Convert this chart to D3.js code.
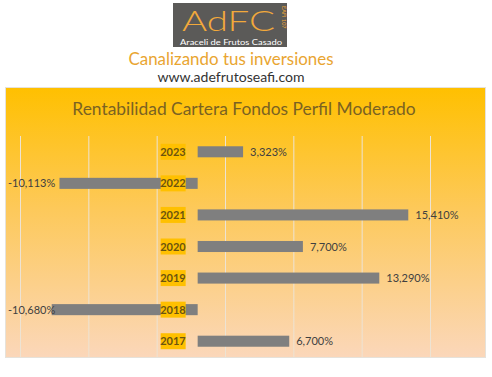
<!DOCTYPE html>
<html>
<head>
<meta charset="utf-8">
<script src="https://cdn.jsdelivr.net/npm/d3@7"></script>
<style>
  body { margin: 0; background: #fff; }
  svg { display: block; }
</style>
</head>
<body>
<svg id="chart" width="492" height="377"></svg>
<script>
var years = ['2023', '2022', '2021', '2020', '2019', '2018', '2017'];
var returns = [3.323, -10.113, 15.41, 7.7, 13.29, -10.68, 6.7];
var axisMin = -13, axisMax = 17, axisStep = 5;

var svg = d3.select('#chart');

// header / logo
var defs = svg.append('defs');
var grad = defs.append('linearGradient').attr('id', 'bg')
  .attr('x1', 0).attr('y1', 0).attr('x2', 0).attr('y2', 1);
grad.append('stop').attr('offset', '0%').attr('stop-color', '#FFC000');
grad.append('stop').attr('offset', '45%').attr('stop-color', '#FDC95A');
grad.append('stop').attr('offset', '100%').attr('stop-color', '#FBD7BA');

svg.append('rect').attr('x', 173).attr('y', 3).attr('width', 114).attr('height', 44)
  .attr('fill', '#5B5A58');
svg.append('text').attr('x', 182).attr('y', 31)
  .attr('textLength', 93).attr('lengthAdjust', 'spacingAndGlyphs')
  .style('font-family', 'Lato, sans-serif').style('font-weight', 300)
  .style('font-size', '28px').style('fill', '#F2A93B')
  .text('AdFC');
svg.append('text').attr('transform', 'translate(282,6) rotate(90)')
  .style('font-family', 'Lato, sans-serif').style('font-size', '5.5px').style('fill', '#F2A93B')
  .text('EAFI 107');
svg.append('text').attr('x', 180).attr('y', 44.5)
  .attr('textLength', 102).attr('lengthAdjust', 'spacingAndGlyphs')
  .style('font-family', 'Lato, sans-serif').style('font-size', '8px').style('fill', '#fff')
  .text('Araceli de Frutos Casado');
svg.append('text').attr('x', 231).attr('y', 65).attr('text-anchor', 'middle')
  .attr('textLength', 205).attr('lengthAdjust', 'spacingAndGlyphs')
  .style('font-family', 'Lato, sans-serif').style('font-size', '16.5px').style('fill', '#E9A531')
  .text('Canalizando tus inversiones');
svg.append('text').attr('x', 231).attr('y', 82).attr('text-anchor', 'middle')
  .attr('textLength', 147).attr('lengthAdjust', 'spacingAndGlyphs')
  .style('font-family', 'Lato, sans-serif').style('font-size', '13px').style('fill', '#333')
  .text('www.adefrutoseafi.com');

// chart area
svg.append('rect').attr('x', 5.5).attr('y', 87.5).attr('width', 480).attr('height', 270)
  .attr('fill', 'url(#bg)').attr('stroke', '#E6E2DA');

svg.append('text').attr('x', 244).attr('y', 115).attr('text-anchor', 'middle')
  .style('font-family', 'Lato, sans-serif').style('font-size', '17.4px').style('fill', '#7A6222')
  .text('Rentabilidad Cartera Fondos Perfil Moderado');

var x = d3.scaleLinear().domain([axisMin, axisMax]).range([20, 430]);
var y = d3.scaleBand().domain(years).range([136, 357]).paddingInner(0.65).paddingOuter(0.325);

// gridlines
svg.append('g').selectAll('line')
  .data(d3.range(axisMin, axisMax + 0.01, axisStep))
  .enter().append('line')
  .attr('x1', d => x(d) + 0.5).attr('x2', d => x(d) + 0.5)
  .attr('y1', 136).attr('y2', 357)
  .attr('stroke', '#EDE3D3').attr('stroke-width', 1);

var data = years.map((yr, i) => ({ year: yr, value: returns[i] }));

svg.append('g').selectAll('rect')
  .data(data).enter().append('rect')
  .attr('x', d => x(Math.min(0, d.value)))
  .attr('y', d => y(d.year))
  .attr('width', d => Math.abs(x(d.value) - x(0)))
  .attr('height', y.bandwidth())
  .attr('fill', '#7F7F7F');

// category labels with yellow boxes
var cat = svg.append('g').selectAll('g')
  .data(data).enter().append('g');
cat.append('rect')
  .attr('x', x(0) - 37).attr('y', d => y(d.year) + y.bandwidth() / 2 - 8)
  .attr('width', 25).attr('height', 16)
  .attr('fill', '#FFC000');
cat.append('text')
  .attr('x', x(0) - 12).attr('y', d => y(d.year) + y.bandwidth() / 2 + 4)
  .attr('text-anchor', 'end')
  .style('font-family', 'Lato, sans-serif').style('font-weight', 'bold')
  .style('font-size', '11px').style('fill', '#6B5410')
  .text(d => d.year);

// value labels
var fmt = d3.formatLocale({ decimal: ',', thousands: '.', grouping: [3], currency: ['', '€'], minus: '-' }).format('.3f');
svg.append('g').selectAll('text')
  .data(data).enter().append('text')
  .attr('y', d => y(d.year) + y.bandwidth() / 2 + 4)
  .style('font-family', 'Lato, sans-serif').style('font-size', '11px').style('fill', '#404040')
  .text(d => fmt(d.value) + '%')
  .each(function (d) {
    var t = d3.select(this);
    if (d.value >= 0) {
      t.attr('x', x(d.value) + 7).attr('text-anchor', 'start');
    } else {
      var w = this.getComputedTextLength();
      var right = x(d.value) - 5;
      if (right - w < 8) t.attr('x', 8).attr('text-anchor', 'start');
      else t.attr('x', right).attr('text-anchor', 'end');
    }
  });
</script>
</body>
</html>
